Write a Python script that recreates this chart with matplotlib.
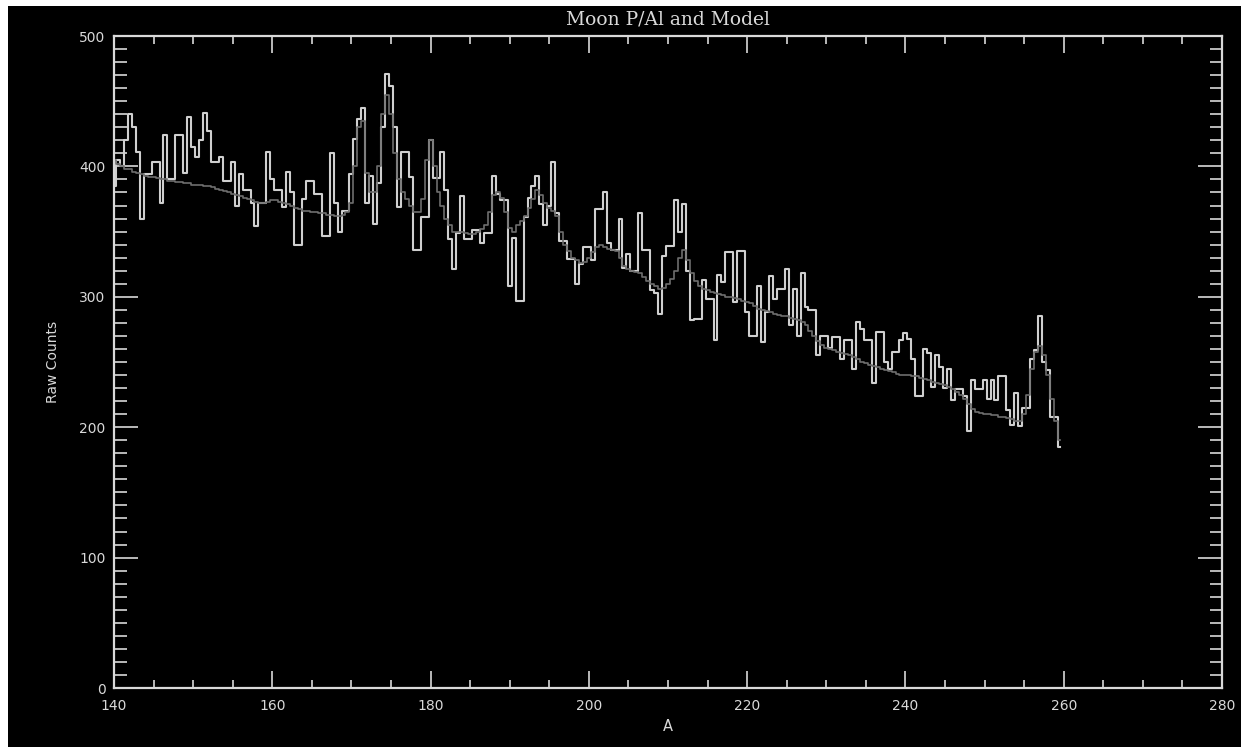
import numpy as np
import matplotlib
matplotlib.use("Agg")
import matplotlib.pyplot as plt
from matplotlib.patches import Rectangle
from matplotlib.ticker import MultipleLocator

# wavelength bins, 0.5 A wide, 140.0 .. 259.5
wave_start = 140.0
bin_width = 0.5

# measured counts (white histogram), 10 bins per row
raw_counts = [
    385, 405, 400, 420, 440, 430, 411, 360, 394, 394,   # 140.0
    403, 403, 372, 424, 390, 390, 424, 424, 395, 438,   # 145.0
    415, 407, 420, 441, 427, 403, 403, 407, 389, 389,   # 150.0
    403, 370, 394, 382, 382, 372, 354, 372, 372, 411,   # 155.0
    390, 382, 382, 369, 396, 380, 340, 340, 375, 389,   # 160.0
    389, 379, 379, 347, 347, 410, 372, 350, 366, 366,   # 165.0
    394, 421, 436, 445, 372, 393, 356, 387, 430, 471,   # 170.0
    462, 430, 369, 411, 411, 392, 336, 336, 361, 361,   # 175.0
    420, 391, 391, 411, 382, 344, 321, 349, 377, 344,   # 180.0
    344, 351, 351, 341, 349, 349, 393, 379, 374, 374,   # 185.0
    308, 345, 297, 297, 361, 376, 385, 393, 371, 355,   # 190.0
    370, 403, 364, 343, 343, 329, 329, 310, 325, 338,   # 195.0
    338, 328, 367, 367, 380, 341, 336, 336, 360, 322,   # 200.0
    333, 320, 320, 364, 336, 336, 305, 303, 287, 331,   # 205.0
    339, 339, 374, 350, 371, 320, 282, 283, 283, 313,   # 210.0
    298, 298, 267, 317, 311, 334, 334, 296, 335, 335,   # 215.0
    288, 270, 270, 308, 265, 288, 316, 298, 306, 306,   # 220.0
    321, 278, 306, 270, 318, 292, 290, 290, 255, 270,   # 225.0
    270, 261, 269, 269, 252, 267, 267, 245, 281, 275,   # 230.0
    267, 267, 234, 273, 273, 250, 245, 258, 258, 267,   # 235.0
    272, 268, 252, 224, 224, 260, 257, 231, 255, 246,   # 240.0
    230, 245, 221, 229, 229, 224, 197, 236, 229, 229,   # 245.0
    236, 222, 236, 221, 239, 239, 213, 202, 226, 201,   # 250.0
    215, 215, 252, 259, 285, 250, 244, 208, 208, 185,   # 255.0
]

# model counts (dark grey histogram)
model_counts = [
    405, 402, 400, 398, 398, 396, 395, 394, 393, 392,   # 140.0
    392, 391, 390, 390, 389, 389, 388, 388, 387, 387,   # 145.0
    386, 386, 386, 385, 385, 384, 383, 382, 381, 380,   # 150.0
    379, 378, 377, 376, 375, 374, 373, 372, 372, 373,   # 155.0
    374, 374, 373, 372, 371, 370, 368, 367, 366, 366,   # 160.0
    365, 365, 364, 364, 363, 363, 362, 362, 363, 365,   # 165.0
    372, 400, 430, 435, 395, 380, 380, 400, 440, 455,   # 170.0
    440, 410, 390, 380, 375, 370, 365, 365, 375, 405,   # 175.0
    420, 400, 380, 370, 360, 355, 350, 350, 350, 349,   # 180.0
    348, 348, 350, 352, 355, 365, 378, 380, 376, 365,   # 185.0
    353, 350, 355, 358, 362, 368, 375, 382, 378, 372,   # 190.0
    368, 366, 362, 350, 340, 335, 330, 328, 326, 327,   # 195.0
    330, 334, 338, 340, 338, 337, 336, 335, 330, 324,   # 200.0
    321, 320, 319, 318, 315, 312, 310, 308, 306, 307,   # 205.0
    310, 314, 320, 330, 336, 328, 318, 312, 308, 306,   # 210.0
    305, 304, 303, 302, 301, 300, 300, 299, 298, 297,   # 215.0
    296, 295, 293, 291, 290, 289, 288, 287, 286, 285,   # 220.0
    285, 284, 283, 282, 281, 278, 274, 270, 266, 263,   # 225.0
    261, 260, 259, 258, 257, 256, 255, 254, 252, 250,   # 230.0
    249, 248, 247, 246, 245, 244, 243, 242, 241, 240,   # 235.0
    240, 240, 239, 239, 238, 237, 236, 235, 234, 233,   # 240.0
    232, 231, 229, 227, 225, 222, 218, 214, 212, 211,   # 245.0
    210, 210, 209, 209, 208, 208, 207, 206, 205, 205,   # 250.0
    210, 225, 245, 258, 262, 255, 240, 222, 205, 190,   # 255.0
]

x_range = (140, 280)
y_range = (0, 500)
x_major, x_minor = 20, 5
y_major, y_minor = 100, 10

title = "Moon P/Al and Model"
x_label = "A"
y_label = "Raw Counts"

fg = "#d9d9d9"

wave = wave_start + bin_width * np.arange(len(raw_counts))

fig = plt.figure(figsize=(12.48, 7.47), dpi=100, facecolor="white")
# black plotting window, leaving the thin white margin of the original
fig.add_artist(Rectangle((8 / 1248, 0), 1233 / 1248, 741 / 747,
                         transform=fig.transFigure, facecolor="black",
                         edgecolor="none", zorder=-10))

ax = fig.add_axes([114 / 1248, 1 - 688 / 747, 1108 / 1248, 652 / 747])
ax.set_facecolor("black")

ax.plot(wave, raw_counts, drawstyle="steps-mid", color="#cfcfcf", lw=1.5)
ax.plot(wave, model_counts, drawstyle="steps-mid", color="#6e6e6e", lw=1.2)

ax.set_xlim(*x_range)
ax.set_ylim(*y_range)
ax.xaxis.set_major_locator(MultipleLocator(x_major))
ax.xaxis.set_minor_locator(MultipleLocator(x_minor))
ax.yaxis.set_major_locator(MultipleLocator(y_major))
ax.yaxis.set_minor_locator(MultipleLocator(y_minor))

for s in ax.spines.values():
    s.set_color(fg)
    s.set_linewidth(1.6)

ax.tick_params(axis="both", which="both", direction="in", colors=fg,
               top=True, right=True, labelsize=10)
ax.tick_params(axis="x", which="major", length=12, width=1.2, pad=8)
ax.tick_params(axis="x", which="minor", length=6, width=1.2)
ax.tick_params(axis="y", which="major", length=17, width=1.2, pad=6)
ax.tick_params(axis="y", which="minor", length=9, width=1.2)

ax.set_title(title, color=fg, fontsize=13.5, family="DejaVu Serif", pad=8)
ax.set_xlabel(x_label, color=fg, fontsize=10.5, labelpad=4)
ax.set_ylabel(y_label, color=fg, fontsize=10, labelpad=14)

fig.savefig("out.png", dpi=100, facecolor="white")
